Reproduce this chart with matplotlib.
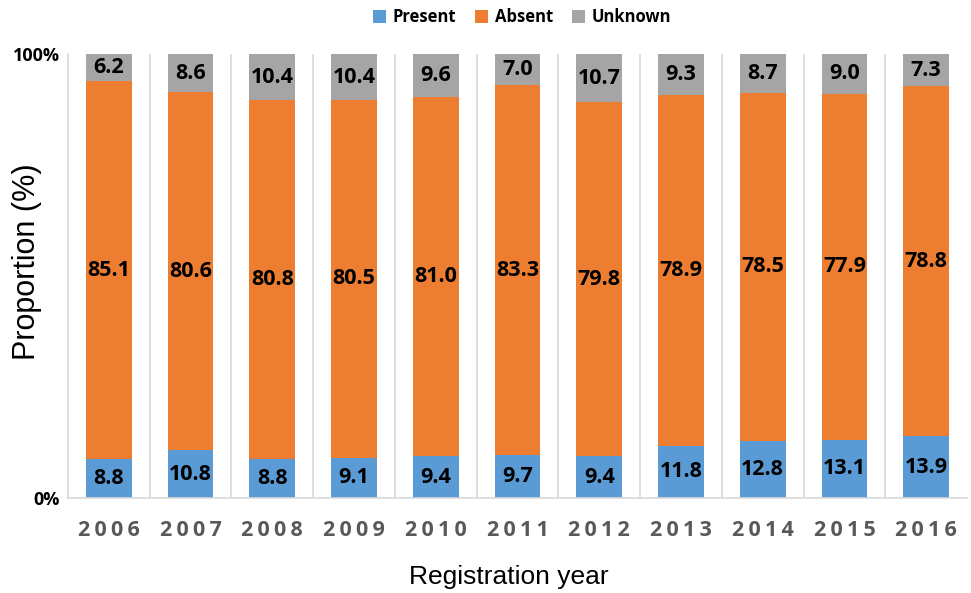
import numpy as np
import matplotlib
matplotlib.use("Agg")
import matplotlib.pyplot as plt
from matplotlib.patches import Patch

years = ["2006", "2007", "2008", "2009", "2010", "2011", "2012", "2013", "2014", "2015", "2016"]
present = [8.8, 10.8, 8.8, 9.1, 9.4, 9.7, 9.4, 11.8, 12.8, 13.1, 13.9]
absent = [85.1, 80.6, 80.8, 80.5, 81.0, 83.3, 79.8, 78.9, 78.5, 77.9, 78.8]
unknown = [6.2, 8.6, 10.4, 10.4, 9.6, 7.0, 10.7, 9.3, 8.7, 9.0, 7.3]

series_names = ["Present", "Absent", "Unknown"]
colors = ["#5B9BD5", "#ED7D31", "#A5A5A5"]

W, H = 971, 593
fig = plt.figure(figsize=(W / 100, H / 100), dpi=100)
ax = fig.add_axes([68 / W, 1 - 498 / H, (967 - 68) / W, (498 - 54) / H])

x = np.arange(len(years))
bw = 0.56
bold_family = ["Open Sans", "DejaVu Sans"]
label_font = dict(family=bold_family, fontweight="bold", fontsize=15.5, color="black")

bottom = np.zeros(len(years))
for vals, col in zip([present, absent, unknown], colors):
    vals = np.array(vals)
    ax.bar(x, vals, bw, bottom=bottom, color=col, zorder=2)
    for xi, b, v in zip(x, bottom, vals):
        top = min(b + v, 100)
        ax.text(xi, (b + top) / 2, f"{v:.1f}", ha="center", va="center", zorder=3, **label_font)
    bottom = bottom + vals

ax.set_xlim(-0.5, len(years) - 0.5)
ax.set_ylim(0, 100)

# category separators
for b in np.arange(0.5, len(years) - 0.5, 1):
    ax.axvline(b, color="#D9D9D9", lw=1.2, zorder=1)

for s in ["top", "right"]:
    ax.spines[s].set_visible(False)
for s in ["left", "bottom"]:
    ax.spines[s].set_color("#D9D9D9")
    ax.spines[s].set_linewidth(1.2)

ax.set_yticks([0, 100])
ax.set_yticklabels(["0%", "100%"], family=bold_family, fontweight="bold", fontsize=13)
ax.set_xticks(x)
ax.set_xticklabels(["\u2009".join(y) for y in years], family=bold_family, fontweight="bold",
                   fontsize=15.5, color="#595959")
ax.tick_params(axis="both", length=0)
ax.tick_params(axis="x", pad=16)
ax.tick_params(axis="y", pad=6)

fig.text(509 / W, 1 - 577 / H, "Registration year", family=["Liberation Sans", "DejaVu Sans"],
         fontsize=19, ha="center", va="center")
fig.text(27 / W, 1 - 262 / H, "Proportion (%)", family=["Liberation Sans", "DejaVu Sans"], fontsize=22,
         rotation=90, ha="center", va="center")

handles = [Patch(facecolor=c, label=n) for n, c in zip(series_names, colors)]
fig.legend(handles=handles, loc="center", bbox_to_anchor=(522 / W, 1 - 17 / H), ncol=3, frameon=False,
           prop=dict(family=bold_family, weight="bold", size=12),
           handlelength=0.8, handleheight=0.8, handletextpad=0.4, columnspacing=1.1)

fig.savefig("out.png", dpi=100)
